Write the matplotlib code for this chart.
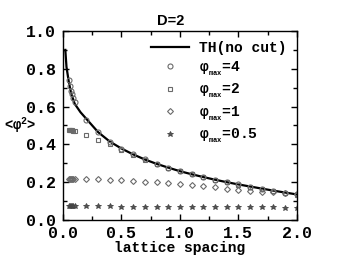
import numpy as np
import matplotlib
matplotlib.use('Agg')
import matplotlib.pyplot as plt
from matplotlib.ticker import MultipleLocator

plt.rcParams['mathtext.fontset'] = 'custom'
plt.rcParams['mathtext.rm'] = 'Liberation Mono:bold'
plt.rcParams['mathtext.it'] = 'Liberation Mono:bold'
plt.rcParams['mathtext.bf'] = 'Liberation Mono:bold'

# theory curve (no cut)
th_x = [0.02, 0.03, 0.05, 0.07, 0.1, 0.15, 0.2, 0.3, 0.4, 0.5, 0.6, 0.7, 0.8, 0.9, 1.0,
        1.1, 1.2, 1.3, 1.4, 1.5, 1.6, 1.7, 1.8, 1.9, 2.0]
th_y = [0.90, 0.81, 0.73, 0.67, 0.615, 0.57, 0.535, 0.465, 0.415, 0.378, 0.347, 0.320,
        0.297, 0.277, 0.258, 0.242, 0.227, 0.213, 0.200, 0.188, 0.177, 0.166, 0.155,
        0.145, 0.135]

# lattice spacings of the simulation points
a_vals = [0.05, 0.06, 0.07, 0.08, 0.09, 0.1, 0.2, 0.3, 0.4, 0.5, 0.6, 0.7, 0.8,
          0.9, 1.0, 1.1, 1.2, 1.3, 1.4, 1.5, 1.6, 1.7, 1.8, 1.9, 2.0]

phi4 = [0.74, 0.71, 0.685, 0.665, 0.645, 0.625, 0.53, 0.465, 0.415, 0.378, 0.347,
        0.320, 0.297, 0.277, 0.258, 0.242, 0.227, 0.213, 0.200, 0.188, 0.177, 0.166,
        0.155, 0.145, 0.135]
phi2 = [0.477, 0.476, 0.475, 0.474, 0.473, 0.472, 0.45, 0.425, 0.40, 0.372, 0.345,
        0.318, 0.296, 0.276, 0.257, 0.241, 0.226, 0.212, 0.199, 0.187, 0.176, 0.165,
        0.154, 0.144, 0.134]
phi1 = [0.216, 0.216, 0.216, 0.216, 0.216, 0.216, 0.215, 0.215, 0.212, 0.210,
        0.207, 0.203, 0.200, 0.195, 0.190, 0.185, 0.180, 0.172, 0.166, 0.160, 0.155,
        0.150, 0.146, 0.140, 0.135]
phi05 = [0.072, 0.072, 0.072, 0.072, 0.072, 0.072, 0.072, 0.072, 0.072, 0.071,
         0.071, 0.071, 0.071, 0.070, 0.070, 0.070, 0.069, 0.069, 0.068, 0.068, 0.067,
         0.067, 0.066, 0.065, 0.064]

mono = dict(family='Liberation Mono', weight='bold')
gray = '#6a6a6a'
sub = r'$\mathrm{φ}_{_{\mathrm{max}}}$'

fig = plt.figure(figsize=(3.46, 2.65), dpi=100)
ax = fig.add_axes([0.182, 0.170, 0.676, 0.713])

ax.plot(th_x, th_y, color='black', lw=1.6, label='TH(no cut)')
ax.plot(a_vals, phi4, 'o', ms=3.6, mfc='none', mec=gray, mew=0.8, label=sub + '=4')
ax.plot(a_vals, phi2, 's', ms=3.2, mfc='none', mec=gray, mew=0.8, label=sub + '=2')
ax.plot(a_vals, phi1, 'D', ms=3.0, mfc='none', mec=gray, mew=0.8, label=sub + '=1')
ax.plot(a_vals, phi05, '*', ms=4.2, mfc='#555555', mec='#444444', mew=0.6, label=sub + '=0.5')

ax.set_xlim(0, 2.0)
ax.set_ylim(0, 1.0)
ax.xaxis.set_major_locator(MultipleLocator(0.5))
ax.xaxis.set_minor_locator(MultipleLocator(0.25))
ax.yaxis.set_major_locator(MultipleLocator(0.2))
ax.yaxis.set_minor_locator(MultipleLocator(0.1))
ax.tick_params(which='both', direction='in', top=True, right=True, width=1)
ax.tick_params(which='major', length=4, labelsize=12)
ax.tick_params(axis='x', which='major', pad=4)
ax.tick_params(axis='y', which='major', pad=5)
ax.tick_params(which='minor', length=3)
for s in ax.spines.values():
    s.set_linewidth(1.0)
ax.xaxis.set_major_formatter(plt.FormatStrFormatter('%.1f'))
ax.yaxis.set_major_formatter(plt.FormatStrFormatter('%.1f'))
for lab in ax.get_xticklabels() + ax.get_yticklabels():
    lab.set_fontfamily('Liberation Mono')
    lab.set_fontweight('bold')

ax.set_xlabel('lattice spacing', fontsize=10.5, labelpad=0, **mono)
ax.set_ylabel(r'<$\mathrm{φ}^{2}$>', fontsize=10, rotation=0, ha='center', va='center',
              family='Liberation Sans', weight='bold')
ax.yaxis.set_label_coords(-0.185, 0.5)
ax.set_title('D=2', fontsize=10.5, family='Liberation Sans', weight='bold', pad=4, x=0.46)

leg = ax.legend(loc='upper right', frameon=False,
                prop=dict(family='Liberation Mono', weight='bold', size=10.5),
                handlelength=2.6, handletextpad=0.7, labelspacing=0.3, borderaxespad=0.3)

fig.savefig('out.png', dpi=100)
